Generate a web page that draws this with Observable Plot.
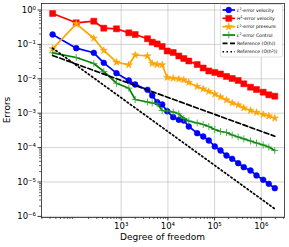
<!DOCTYPE html>
<html>
<head>
<meta charset="utf-8">
<script src="https://cdn.jsdelivr.net/npm/d3@7"></script>
<script src="https://cdn.jsdelivr.net/npm/@observablehq/plot@0.6"></script>
<style>
  html, body { margin: 0; padding: 0; background: white; }
  svg { display: block; }
</style>
</head>
<body>
<div id="chart"></div>
<script>
// Degrees of freedom (shared by all error series)
const dof = [34, 109, 259, 424, 793, 1455, 1995, 3657, 4611, 5902, 7551, 9661, 12990, 17120, 21900, 28020,
  42400, 57000, 75120, 101000, 133800, 179800, 238200, 320200, 422000, 587000, 789400, 1098000, 1447000, 1946000];

const l2Velocity = [0.194, 0.0776, 0.0570, 0.0292, 0.01455, 0.00893, 0.00683, 0.00479, 0.00327, 0.00209,
  0.00179, 0.00114, 7.65e-4, 6.43e-4, 6.14e-4, 4.10e-4, 2.62e-4, 2.10e-4, 1.61e-4, 1.08e-4,
  8.24e-5, 5.89e-5, 4.72e-5, 3.52e-5, 2.69e-5, 2.16e-5, 1.55e-5, 1.16e-5, 8.87e-6, 6.60e-6];

const h1Velocity = [0.791, 0.425, 0.472, 0.296, 0.284, 0.217, 0.194, 0.146, 0.116, 0.103,
  0.0869, 0.0643, 0.0582, 0.0460, 0.0389, 0.0329, 0.0260, 0.0206, 0.0169, 0.0153,
  0.0138, 0.0117, 0.0102, 0.00893, 0.00716, 0.00570, 0.00489, 0.00408, 0.00343, 0.00312];

const l2Pressure = [0.0745, 0.397, 0.151, 0.0665, 0.0304, 0.0255, 0.0492, 0.0460, 0.0279, 0.0260,
  0.0255, 0.0109, 0.0103, 0.00986, 0.00923, 0.00780, 0.00597, 0.00505, 0.00428, 0.00361,
  0.00296, 0.00242, 0.00198, 0.00173, 0.00142, 0.00120, 0.00105, 0.000917, 0.000829, 0.000716];

const l2Control = [0.0570, 0.0416, 0.0279, 0.0163, 0.00745, 0.00533, 0.00250, 0.00212, 0.00198, 0.00188,
  0.00120, 0.00116, 0.00108, 0.000961, 0.000701, 0.000593, 0.000519, 0.000470, 0.000410, 0.000336,
  0.000294, 0.000275, 0.000232, 0.000203, 0.000180, 0.000156, 0.000136, 0.000119, 0.000104, 8.24e-5];

// Reference slopes (straight lines in log-log: end points)
const refDof = [34, 1946000];
const refH = [0.0476, 2.14e-4];
const refH2 = [0.0776, 1.66e-6];

const xTicks = [1e3, 1e4, 1e5, 1e6];
const yTicks = [1e-6, 1e-5, 1e-4, 1e-3, 1e-2, 1e-1, 1e0];

const xDomain = [19.65, 3.14e6];
const yDomain = [9.29e-7, 1.545];

const supMap = {"0":"⁰","1":"¹","2":"²","3":"³","4":"⁴","5":"⁵","6":"⁶","7":"⁷","8":"⁸","9":"⁹","-":"⁻"};
const fmt = d => "10" + String(Math.round(Math.log10(d))).split("").map(c => supMap[c]).join("");

function minors(lo, hi) {
  const out = [];
  for (let k = Math.floor(Math.log10(lo)); k <= Math.ceil(Math.log10(hi)); k++)
    for (let m = 2; m <= 9; m++) { const v = m * Math.pow(10, k); if (v >= lo && v <= hi) out.push(v); }
  return out;
}
const xMinor = minors(xDomain[0], xDomain[1]);
const yMinor = minors(yDomain[0], yDomain[1]);

const mk = (ys) => dof.map((d, i) => ({x: d, y: ys[i]}));
const sBlue = mk(l2Velocity), sRed = mk(h1Velocity), sOrange = mk(l2Pressure), sGreen = mk(l2Control);
const rH = refDof.map((d, i) => ({x: d, y: refH[i]}));
const rH2 = refDof.map((d, i) => ({x: d, y: refH2[i]}));

const lw = 1.7;
const chart = Plot.plot({
  width: 289, height: 247,
  marginLeft: 41, marginRight: 5, marginTop: 3, marginBottom: 30,
  style: {fontFamily: "DejaVu Sans", fontSize: "8.5px", background: "white", color: "#000"},
  x: {type: "log", domain: xDomain},
  y: {type: "log", domain: yDomain},
  marks: [
    Plot.gridX(xTicks, {stroke: "#b0b0b0", strokeOpacity: 0.7, strokeWidth: 0.8}),
    Plot.gridY(yTicks, {stroke: "#b0b0b0", strokeOpacity: 0.7, strokeWidth: 0.8}),
    Plot.axisX(xMinor, {tickSize: 2, tickFormat: () => "", label: null, strokeWidth: 0.6}),
    Plot.axisY(yMinor, {tickSize: 2, tickFormat: () => "", label: null, strokeWidth: 0.6}),
    Plot.axisX(xTicks, {tickSize: 3.5, tickPadding: 2, tickFormat: fmt, label: null, strokeWidth: 0.8}),
    Plot.axisY(yTicks, {tickSize: 3.5, tickPadding: 2, tickFormat: fmt, label: null, strokeWidth: 0.8}),
    Plot.line(sBlue, {x: "x", y: "y", stroke: "blue", strokeWidth: lw}),
    Plot.dot(sBlue, {x: "x", y: "y", symbol: "circle", r: 2.9, fill: "blue", stroke: "blue", strokeWidth: 0.5}),
    Plot.line(sRed, {x: "x", y: "y", stroke: "red", strokeWidth: lw}),
    Plot.dot(sRed, {x: "x", y: "y", symbol: "square", r: 3.4, fill: "red", stroke: "red", strokeWidth: 0.5}),
    Plot.line(sOrange, {x: "x", y: "y", stroke: "orange", strokeWidth: lw}),
    Plot.dot(sOrange, {x: "x", y: "y", symbol: "star", r: 2.3, fill: "orange", stroke: "orange", strokeWidth: 0.5}),
    Plot.line(sGreen, {x: "x", y: "y", stroke: "green", strokeWidth: lw}),
    Plot.dot(sGreen, {x: "x", y: "y", symbol: "plus", r: 2.4, stroke: "#2ca02c", strokeWidth: 0.8}),
    Plot.line(rH, {x: "x", y: "y", stroke: "black", strokeWidth: lw, strokeDasharray: "5,2.5"}),
    Plot.line(rH2, {x: "x", y: "y", stroke: "black", strokeWidth: lw, strokeDasharray: "1.5,2.5"}),
    Plot.frame({stroke: "#222", strokeWidth: 0.8})
  ]
});
document.getElementById("chart").appendChild(chart);

const svg = d3.select(chart);
// Axis labels
svg.append("text").attr("x", 162.5).attr("y", 240).attr("text-anchor", "middle")
  .attr("font-family", "DejaVu Sans").attr("font-size", 9).attr("fill", "#000").text("Degree of freedom");
svg.append("text").attr("transform", "translate(7,110) rotate(-90)").attr("text-anchor", "middle")
  .attr("dominant-baseline", "central").attr("fill", "#000")
  .attr("font-family", "DejaVu Sans").attr("font-size", 9).text("Errors");

// Legend
const legend = [
  {parts: [["L", "italic"], ["2", "sup"], ["-error velocity", ""]], color: "blue", sym: d3.symbolCircle, r: 2.9, fill: true},
  {parts: [["H", "italic"], ["1", "sup"], ["-error velocity", ""]], color: "red", sym: d3.symbolSquare, r: 3.4, fill: true},
  {parts: [["L", "italic"], ["2", "sup"], ["-error pressure", ""]], color: "orange", sym: d3.symbolStar, r: 2.3, fill: true},
  {parts: [["L", "italic"], ["2", "sup"], ["-error Control", ""]], color: "green", sym: d3.symbolPlus, r: 2.4, fill: false},
  {parts: [["Reference (O(h))", ""]], color: "black", dash: "5,2.5"},
  {parts: [["Reference (O(h", ""], ["2", "sup"], ["))", ""]], color: "black", dash: "1.5,2.5"}
];
const lg = svg.append("g").attr("text-anchor", "start");
lg.append("rect").attr("x", 220.5).attr("y", 4.5).attr("width", 62).attr("height", 52.5).attr("rx", 1.5)
  .attr("fill", "white").attr("fill-opacity", 0.85).attr("stroke", "#cccccc").attr("stroke-width", 0.6);
legend.forEach((e, i) => {
  const y = 10 + i * 8.35;
  lg.append("line").attr("x1", 222.5).attr("x2", 235).attr("y1", y).attr("y2", y)
    .attr("stroke", e.color).attr("stroke-width", lw).attr("stroke-dasharray", e.dash || null);
  if (e.sym) {
    lg.append("path").attr("d", d3.symbol(e.sym, Math.PI * e.r * e.r)())
      .attr("transform", `translate(228.75,${y})`)
      .attr("fill", e.fill ? e.color : "none")
      .attr("stroke", e.fill ? e.color : "#2ca02c").attr("stroke-width", e.fill ? 0.5 : 0.8);
  }
  const t = lg.append("text").attr("x", 237).attr("y", y + 1.6).attr("text-anchor", "start")
    .attr("font-family", "DejaVu Sans").attr("font-size", 4.6).attr("fill", "#000");
  let shifted = false;
  e.parts.forEach(([s, k]) => {
    const ts = t.append("tspan").text(s);
    if (k === "italic") ts.attr("font-style", "italic");
    if (k === "sup") { ts.attr("font-size", 3.3).attr("dy", -1.7); shifted = true; }
    else if (shifted) { ts.attr("dy", 1.7); shifted = false; }
  });
});
</script>
</body>
</html>
